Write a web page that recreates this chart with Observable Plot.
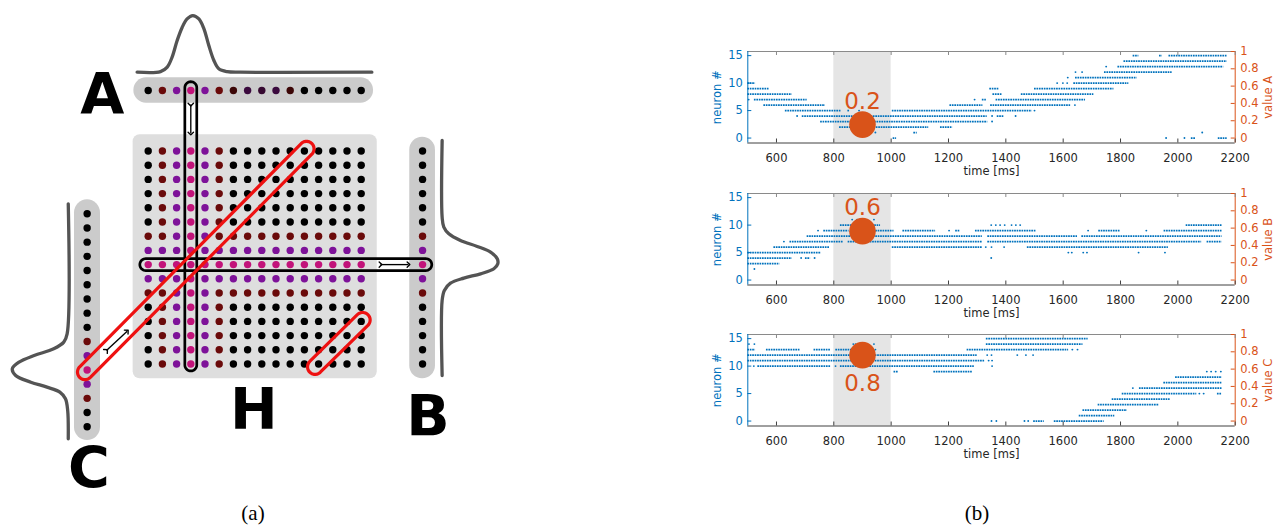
<!DOCTYPE html>
<html>
<head>
<meta charset="utf-8">
<script src="https://cdn.jsdelivr.net/npm/d3@7"></script>
<script src="https://cdn.jsdelivr.net/npm/@observablehq/plot@0.6"></script>
<style>
  body { margin: 0; background: #fff; }
  #root { position: relative; width: 1275px; height: 529px; overflow: hidden; background: #fff; font-family: "DejaVu Sans", sans-serif; }
  .abs { position: absolute; }
  .cap { position: absolute; font-family: "Liberation Serif", "Times New Roman", serif; font-size: 21px; line-height: 21px; color: #000; transform: translateX(-50%); white-space: nowrap; }
</style>
</head>
<body>
<div id="root"></div>
<script>
// ===================== DATA =====================
// ---- (a) schematic: activity level of each neuron (0 silent .. 3 strongest)
const gridColLevels = [0, 1, 2, 3, 2, 1, 0, 0, 0, 0, 0, 0, 0, 0, 0, 0];
const gridRowLevels = [0, 0, 0, 0, 0, 0, 1, 2, 3, 2, 1, 0, 0, 0, 0, 0];
const popALevels = ["0", "1", "2", "3", "2", "1", "r", "p", "q", "p", "r", "0", "0", "0", "0", "0"];
const popBLevels = [0, 0, 0, 0, 0, 0, 1, 2, 3, 2, 1, 0, 0, 0, 0, 0];
const popCLevels = [0, 0, 0, 0, 0, 0, 0, 0, 0, 1, 2, 3, 2, 1, 0, 0];
const levelColors = { "0": "#000000", "1": "#6a0a0a", "2": "#7e1299", "3": "#c2137a", "r": "#3c0606", "p": "#3b0a3e", "q": "#360830" };
const diagramLabels = ["A", "H", "B", "C"];
// tuning curves: position along the population, normalised height
const curveAPos = [-0.78, 0.87, 1.34, 1.69, 2.04, 2.39, 2.74, 3.14, 3.57, 3.92, 4.27, 4.62, 4.97, 5.56, 6.50, 15.75];
const curveAAmp = [0, 0.01, 0.09, 0.27, 0.56, 0.79, 0.94, 1, 0.94, 0.77, 0.47, 0.21, 0.06, 0.01, 0, 0];
const curveBPos = [-0.74, 4.66, 5.36, 5.83, 6.30, 6.72, 7.12, 7.59, 7.94, 8.29, 8.65, 8.95, 9.31, 9.82, 10.52, 15.81];
const curveBAmp = [0, 0, 0.03, 0.12, 0.33, 0.63, 0.87, 0.99, 1, 0.93, 0.69, 0.39, 0.15, 0.04, 0, 0];
const curveCPos = [3.72, 12.88, 13.46, 13.93, 14.40, 14.87, 15.34, 15.81, 16.28, 16.63, 16.98, 17.45, 18.28, 20.27];
const curveCAmp = [0, 0.02, 0.08, 0.26, 0.61, 0.88, 1, 0.94, 0.67, 0.38, 0.15, 0.05, 0.01, 0];

// ---- (b) spike rasters: [neuron, start ms, end ms] (single spike when no end)
const spikesA = [
  [15,1844,1864],[15,1936,1946],[15,1969,2172],
  [14,1812,2172],
  [13,1750],[13,1791,2160],
  [12,1643],[12,1666],[12,1744,1980],
  [11,1616],[11,1643,1858],
  [10,500,527],[10,1579],[10,1599],[10,1614],[10,1637,1829],
  [9,500,574],[9,1344,1376],[9,1500,1777],
  [8,500,655],[8,1355,1387],[8,1454,1707],
  [7,503],[7,523,707],[7,1291],[7,1318,1332],[7,1366,1678],
  [6,556,771],[6,1205,1320],[6,1347,1626],[6,1641],
  [5,631,826],[5,849,857],[5,888],[5,1004,1492],[5,1500],
  [4,672],[4,690,1335],[4,1352],[4,1370,1393],[4,1434],
  [3,754,1337],[3,1352],
  [2,820,1131],[2,1172,1215],
  [1,945],[1,1079,1091],[1,2085],
  [0,1007,1019],[0,1959],[0,2023],[0,2047,2062],[0,2141,2172]
];
const spikesB = [
  [11,864],[11,881],[11,940],
  [10,823,864],[10,934,963],[10,1349],[10,1365],[10,1380],[10,1396],[10,1420],[10,1435],[10,1450],[10,2029,2154],
  [9,745],[9,765,853],[9,946,1010],[9,1041,1155],[9,1202],[9,1225,1240],[9,1294,1507],[9,1687],[9,1724,1799],[9,1890],[9,1952,2154],
  [8,707,1318],[8,1337,1650],[8,1665,2154],
  [7,626],[7,647,833],[7,850,1318],[7,1337,2083],[7,2102,2154],
  [6,591,786],[6,1004,1320],[6,1330],[6,1350],[6,1394],[6,1475,1967],
  [5,500,757],[5,1618],[5,1630],[5,1670],[5,1683],[5,1863],[5,1955],
  [4,500,655],[4,686],[4,701,719],[4,733],[4,1349],
  [3,500,612],
  [2,523]
];
const spikesC = [
  [15,1332,1687],
  [14,504],[14,523],[14,868],[14,876],[14,940],[14,1332,1669],
  [13,500,527],[13,565,684],[13,731,789],[13,807,930],[13,945],[13,1265,1619],[13,1632],[13,1650],
  [12,500,1300],[12,1335],[12,1350],[12,1440],[12,1470],[12,1495],
  [11,500,1326],[11,1340],[11,1352],
  [10,521],[10,535,789],[10,806],[10,823,1290],[10,1352],
  [9,1010,1027],[9,1149,1283],[9,2101],[9,2116],[9,2132],[9,2150],
  [8,1992,2155],
  [7,1951,2155],
  [6,1843],[6,1866,2155],
  [5,1806,2066],[5,2075],[5,2090],[5,2138,2153],
  [4,1771,1973],
  [3,1722,1936],
  [2,1669,1824],
  [1,1656,1780],
  [0,1350],[0,1367],[0,1465],[0,1478],[0,1497,1534],[0,1569,1743]
];
const panelNames = ["value A", "value B", "value C"];
const cueValues = ["0.2", "0.6", "0.8"];
const cueNeuron = [2.45, 8.9, 12.0];
const cueTime = 900;
const cueWindow = [800, 1000];
const timeTicks = [600, 800, 1000, 1200, 1400, 1600, 1800, 2000, 2200];
const neuronTicks = [0, 5, 10, 15];
const valueTicks = [0, 0.2, 0.4, 0.6, 0.8, 1];

// ===================== STYLE / LAYOUT =====================
const BLUE = "#0072BD", ORANGE = "#D95319", AXIS = "#262626";
const root = document.getElementById("root");

// ---------- (a) ----------
const aRowY = -4.26, bColX = 19.32, cColX = -4.30, cRowStart = 4.42;
function stadium(x1, y1, x2, y2, h, n = 18) {
  const dx = x2 - x1, dy = y2 - y1, L = Math.hypot(dx, dy);
  const ux = dx / L, uy = dy / L, nx = -uy, ny = ux;
  const pts = [];
  const a0 = Math.atan2(ny, nx);
  for (let i = 0; i <= n; i++) { const a = a0 - Math.PI * i / n; pts.push({x: x2 + h * Math.cos(a), y: y2 + h * Math.sin(a)}); }
  for (let i = 0; i <= n; i++) { const a = a0 + Math.PI - Math.PI * i / n; pts.push({x: x1 + h * Math.cos(a), y: y1 + h * Math.sin(a)}); }
  return pts;
}
const dots = [];
for (let r = 0; r < 16; r++) for (let c = 0; c < 16; c++)
  dots.push({x: c, y: r, c: levelColors[String(Math.max(gridColLevels[c], gridRowLevels[r]))]});
popALevels.forEach((l, i) => dots.push({x: i, y: aRowY, c: levelColors[l]}));
popBLevels.forEach((l, i) => dots.push({x: bColX, y: i, c: levelColors[String(l)]}));
popCLevels.forEach((l, i) => dots.push({x: cColX, y: cRowStart + i, c: levelColors[String(l)]}));

const curveA = curveAPos.map((p, i) => ({x: p, y: -5.55 - curveAAmp[i] * 3.99}));
const curveB = curveBPos.map((p, i) => ({x: 20.70 + curveBAmp[i] * 3.92, y: p}));
const curveC = curveCPos.map((p, i) => ({x: -5.63 - curveCAmp[i] * 3.94, y: p}));

const labelPos = [{x: -3.24, y: -2.62}, {x: 7.44, y: 19.56}, {x: 19.7, y: 20.04}, {x: -4.18, y: 23.75}];
const curveStyle = {x: "x", y: "y", curve: "catmull-rom", stroke: "#545454", strokeWidth: 3.3, strokeLinecap: "round"};

const diagram = Plot.plot({
  width: 520, height: 500, margin: 0,
  x: {domain: [0, 15], range: [147.7, 360.7], axis: null},
  y: {domain: [0, 15], range: [150.5, 363.5], axis: null},
  color: {type: "identity"},
  style: {background: "transparent", overflow: "visible"},
  marks: [
    Plot.rect([0], {x1: -1.06, x2: 16.13, y1: -1.14, y2: 16.04, fill: "#dedede", rx: 7}),
    Plot.rect([0], {x1: -1.01, x2: 15.87, y1: -5.15, y2: -3.37, fill: "#cbcbcb", rx: 12.6}),
    Plot.rect([0], {x1: 18.42, x2: 20.23, y1: -0.97, y2: 16.04, fill: "#cbcbcb", rx: 12.8}),
    Plot.rect([0], {x1: -5.19, x2: -3.36, y1: 3.44, y2: 20.39, fill: "#cbcbcb", rx: 13}),
    Plot.line(curveA, curveStyle),
    Plot.line(curveB, curveStyle),
    Plot.line(curveC, curveStyle),
    Plot.dot(dots, {x: "x", y: "y", fill: "c", r: 3.7}),
    Plot.line(stadium(3, aRowY - 0.2, 3, 15.07, 0.42), {x: "x", y: "y", curve: "linear-closed", stroke: "#000", strokeWidth: 2.7, fill: "none"}),
    Plot.line(stadium(-0.17, 8, 19.55, 8, 0.42), {x: "x", y: "y", curve: "linear-closed", stroke: "#000", strokeWidth: 2.7, fill: "none"}),
    Plot.line(stadium(cColX - 0.15, cRowStart + 11 + 0.15, 11.15, -0.15, 0.53), {x: "x", y: "y", curve: "linear-closed", stroke: "#ee1111", strokeWidth: 3.2, fill: "none"}),
    Plot.line(stadium(11.75, 15.2, 15.1, 11.9, 0.53), {x: "x", y: "y", curve: "linear-closed", stroke: "#ee1111", strokeWidth: 3.2, fill: "none"}),
    Plot.link([{x1: 3, y1: -3.27, x2: 3, y2: -1.23}, {x1: 16.36, y1: 8, x2: 18.33, y2: 8}, {x1: -2.94, y1: 14.05, x2: -1.48, y2: 12.69}],
      {x1: "x1", y1: "y1", x2: "x2", y2: "y2", stroke: "#000", strokeWidth: 1.35, markerStart: "arrow", markerEnd: "arrow"}),
    Plot.text(diagramLabels, {x: (d, i) => labelPos[i].x, y: (d, i) => labelPos[i].y, text: d => d,
      fontSize: 57, fontWeight: "bold", fontFamily: "DejaVu Sans", lineAnchor: "bottom", textAnchor: "middle", fill: "#000"})
  ]
});
diagram.classList.add("abs");
diagram.style.left = "0px"; diagram.style.top = "0px";
root.appendChild(diagram);

// ---------- (b) ----------
const W = 575, H = 141.5, ML = 47.3, MR = 40.3, MT = 10, MB = 40;
const innerW = W - ML - MR, innerH = H - MT - MB;
const yBot = -0.9, yTop = 15.75, yMid = (yBot + yTop) / 2;
const panelTops = [51.3, 192.8, 334.3];
const allSpikes = [spikesA, spikesB, spikesC];

function panel(k) {
  const sp = allSpikes[k];
  const segs = sp.filter(d => d.length === 3);
  const singles = sp.filter(d => d.length === 2);
  const below = k === 2;
  return Plot.plot({
    width: W, height: H, marginLeft: ML, marginRight: MR, marginTop: MT, marginBottom: MB,
    x: {domain: [500, 2200]},
    y: {domain: [yBot, yTop]},
    style: {background: "transparent", overflow: "visible", fontFamily: "DejaVu Sans", fontSize: "11.5px"},
    marks: [
      Plot.rect([cueWindow], {x1: d => d[0], x2: d => d[1], fill: "#e5e5e5"}),
      Plot.ruleY(segs, {y: d => d[0], x1: d => d[1], x2: d => d[2], stroke: BLUE, strokeWidth: 1.7, strokeDasharray: "1.7,0.75"}),
      Plot.dot(singles, {x: d => d[1], y: d => d[0], r: 0.95, fill: BLUE}),
      Plot.dot([cueNeuron[k]], {x: () => cueTime, y: d => d, r: 13.3, fill: ORANGE}),
      Plot.text([cueValues[k]], {x: () => cueTime, y: () => cueNeuron[k], text: d => d, fill: ORANGE, fontSize: 23,
        fontFamily: "DejaVu Sans", lineAnchor: "bottom", dy: below ? 36 : -16}),
      // frame
      Plot.ruleY([yBot], {stroke: "#404040", strokeWidth: 1}),
      Plot.ruleY([yTop], {stroke: "#8a8a8a", strokeWidth: 1}),
      Plot.ruleX([500], {stroke: BLUE, strokeWidth: 1}),
      Plot.ruleX([2200], {stroke: ORANGE, strokeWidth: 1}),
      // inward ticks
      Plot.ruleX(timeTicks, {stroke: "#404040", insetTop: innerH - 4}),
      Plot.ruleX(timeTicks, {stroke: "#8a8a8a", insetBottom: innerH - 4}),
      Plot.ruleY(neuronTicks, {stroke: BLUE, insetRight: innerW - 4}),
      Plot.ruleY(valueTicks.map(v => v * yTop), {stroke: ORANGE, insetLeft: innerW - 4}),
      // tick labels
      Plot.axisX(timeTicks, {anchor: "bottom", tickSize: 0, tickPadding: 11, color: AXIS, label: null, fontSize: 11.5,
        tickFormat: d => String(d)}),
      Plot.axisY(neuronTicks, {anchor: "left", tickSize: 0, tickPadding: 5, color: BLUE, label: null, fontSize: 11.5,
        tickFormat: d => String(d)}),
      Plot.axisY(valueTicks.map(v => v * yTop), {anchor: "right", tickSize: 0, tickPadding: 5, color: ORANGE, label: null, fontSize: 11.5,
        tickFormat: d => String(+(d / yTop).toFixed(1))}),
      // axis titles
      Plot.text(["time [ms]"], {x: () => 1350, y: () => yBot, dy: 31.5, lineAnchor: "bottom", textAnchor: "middle", fill: AXIS, fontSize: 11.5, text: d => d}),
      Plot.text(["neuron #"], {x: () => 500, y: () => yMid, dx: -30, rotate: -90, lineAnchor: "middle", textAnchor: "middle", fill: BLUE, fontSize: 11.5, text: d => d}),
      Plot.text([panelNames[k]], {x: () => 2200, y: () => yMid, dx: 33, rotate: -90, lineAnchor: "middle", textAnchor: "middle", fill: ORANGE, fontSize: 11.5, text: d => d})
    ]
  });
}
for (let k = 0; k < 3; k++) {
  const p = panel(k);
  p.classList.add("abs");
  p.style.left = "700px";
  p.style.top = (panelTops[k] - MT) + "px";
  root.appendChild(p);
}

// captions
const capA = document.createElement("div"); capA.className = "cap"; capA.textContent = "(a)";
capA.style.left = "253px"; capA.style.top = "503px"; root.appendChild(capA);
const capB = document.createElement("div"); capB.className = "cap"; capB.textContent = "(b)";
capB.style.left = "977px"; capB.style.top = "503px"; root.appendChild(capB);
</script>
</body>
</html>
